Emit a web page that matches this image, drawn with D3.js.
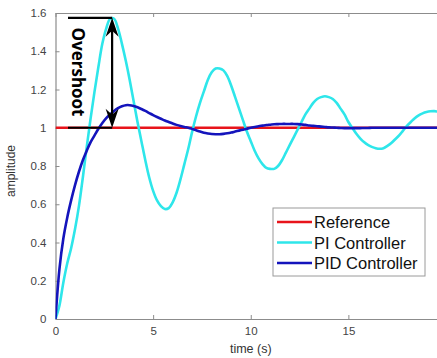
<!DOCTYPE html>
<html>
<head>
<meta charset="utf-8">
<script src="https://d3js.org/d3.v7.min.js"></script>
<style>
  body { margin: 0; background: #fff; }
  svg { display: block; font-family: "Liberation Sans", Arial, sans-serif; }
</style>
</head>
<body>
<div id="chart"></div>
<script>
// sampling grid, step 0.2 s
var time = d3.range(101).map(function(i) { return +(i * 0.2).toFixed(1); });

var piValues = [
  0, 0.07, 0.19, 0.29, 0.37, 0.47, 0.59, 0.74, 0.90, 1.05,
  1.19, 1.32, 1.44, 1.52, 1.57, 1.57, 1.52, 1.44, 1.35, 1.25,
  1.14, 1.03, 0.93, 0.83, 0.74, 0.67, 0.62, 0.59, 0.575, 0.58,
  0.61, 0.66, 0.73, 0.81, 0.89, 0.98, 1.06, 1.13, 1.19, 1.25,
  1.29, 1.31, 1.31, 1.30, 1.27, 1.22, 1.16, 1.10, 1.04, 0.98,
  0.93, 0.88, 0.84, 0.81, 0.79, 0.785, 0.785, 0.80, 0.83, 0.87,
  0.91, 0.95, 0.99, 1.03, 1.07, 1.10, 1.13, 1.15, 1.16, 1.165,
  1.16, 1.15, 1.13, 1.10, 1.07, 1.03, 1.00, 0.97, 0.945, 0.925,
  0.91, 0.90, 0.893, 0.89, 0.893, 0.905, 0.92, 0.94, 0.96, 0.985,
  1.01, 1.03, 1.05, 1.065, 1.075, 1.082, 1.086, 1.087, 1.084, 1.078,
  1.07
];

var pidValues = [
  0, 0.26, 0.42, 0.53, 0.62, 0.70, 0.77, 0.83, 0.88, 0.925,
  0.96, 0.995, 1.025, 1.05, 1.07, 1.088, 1.102, 1.112, 1.118, 1.118,
  1.114, 1.107, 1.098, 1.088, 1.077, 1.066, 1.056, 1.047, 1.038, 1.03,
  1.022, 1.015, 1.009, 1.004, 1.0, 0.994, 0.987, 0.98, 0.974, 0.97,
  0.967, 0.966, 0.966, 0.968, 0.971, 0.975, 0.98, 0.985, 0.99, 0.995,
  1.0, 1.004, 1.008, 1.011, 1.014, 1.016, 1.018, 1.019, 1.02, 1.02,
  1.02, 1.02, 1.019, 1.017, 1.015, 1.012, 1.01, 1.008, 1.006, 1.004,
  1.002, 1.001, 1.0, 0.999, 0.998, 0.998, 0.998, 0.998, 0.998, 0.999,
  0.999, 1, 1, 1, 1, 1, 1, 1, 1, 1,
  1, 1, 1, 1, 1, 1, 1, 1, 1, 1,
  1
];

var refTime = [0, 20];
var refValues = [1, 1];

var xTicks = [0, 5, 10, 15];
var yTicks = [0, 0.2, 0.4, 0.6, 0.8, 1, 1.2, 1.4, 1.6];

var legendNames = ["Reference", "PI Controller", "PID Controller"];
var colors = ["#e8141b", "#2ee6ea", "#1414bc"];

var W = 437, H = 358;
var mLeft = 55.5, mRight = 446, mTop = 13, mBottom = 319;

var svg = d3.select("#chart").append("svg")
  .attr("width", W).attr("height", H);

var x = d3.scaleLinear().domain([0, 20]).range([mLeft, mRight]);
var y = d3.scaleLinear().domain([0, 1.6]).range([mBottom, mTop]);

svg.append("clipPath").attr("id", "clip")
  .append("rect").attr("x", mLeft).attr("y", mTop)
  .attr("width", mRight - mLeft).attr("height", mBottom - mTop);

// axes (box style, ticks inward)
var axisColor = "#8c8c8c";
var tickColor = "#444";

var gx = svg.append("g").attr("transform", "translate(0," + mBottom + ")")
  .call(d3.axisBottom(x).tickValues(xTicks).tickSizeInner(-4).tickSizeOuter(0).tickPadding(8)
    .tickFormat(d3.format("d")));
var gxTop = svg.append("g").attr("transform", "translate(0," + mTop + ")")
  .call(d3.axisTop(x).tickValues(xTicks).tickSizeInner(-4).tickSizeOuter(0).tickFormat(""));
var gy = svg.append("g").attr("transform", "translate(" + mLeft + ",0)")
  .call(d3.axisLeft(y).tickValues(yTicks).tickSizeInner(-4).tickSizeOuter(0).tickPadding(9)
    .tickFormat(function(d) { return d3.format("~g")(d); }));

[gx, gxTop, gy].forEach(function(g) {
  g.select(".domain").attr("stroke", axisColor).attr("stroke-width", 1.2);
  g.selectAll(".tick line").attr("stroke", axisColor);
  g.selectAll(".tick text").attr("fill", tickColor).style("font-size", "11.5px");
});

svg.append("text")
  .attr("x", x(10)).attr("y", 353)
  .attr("text-anchor", "middle")
  .attr("fill", "#333")
  .style("font-size", "12.5px")
  .text("time (s)");

svg.append("text")
  .attr("transform", "translate(15," + 171 + ") rotate(-90)")
  .attr("text-anchor", "middle")
  .attr("fill", "#333")
  .style("font-size", "12px")
  .text("amplitude");

// lines
var line = d3.line()
  .x(function(d) { return x(d[0]); })
  .y(function(d) { return y(d[1]); })
  .curve(d3.curveCatmullRom);

var plot = svg.append("g").attr("clip-path", "url(#clip)");

var series = [
  refTime.map(function(t, i) { return [t, refValues[i]]; }),
  time.map(function(t, i) { return [t, piValues[i]]; }),
  time.map(function(t, i) { return [t, pidValues[i]]; })
];

series.forEach(function(s, i) {
  plot.append("path")
    .datum(s)
    .attr("d", line)
    .attr("fill", "none")
    .attr("stroke", colors[i])
    .attr("stroke-width", 2.6);
});

// overshoot annotation
var peakT = 2.9;
var ann = svg.append("g");
ann.append("line")
  .attr("x1", 68).attr("x2", x(peakT))
  .attr("y1", y(1.575)).attr("y2", y(1.575))
  .attr("stroke", "#000").attr("stroke-width", 2.2);
ann.append("line")
  .attr("x1", 68).attr("x2", x(peakT))
  .attr("y1", y(1)).attr("y2", y(1))
  .attr("stroke", "#000").attr("stroke-width", 2.2);
ann.append("line")
  .attr("x1", x(peakT)).attr("x2", x(peakT))
  .attr("y1", y(1.575) + 8).attr("y2", y(1) - 8)
  .attr("stroke", "#000").attr("stroke-width", 2.2);

var ax = x(peakT);
ann.append("path")
  .attr("d", "M" + ax + "," + y(1.575) + " L" + (ax - 6.5) + "," + (y(1.575) + 19) +
    " L" + ax + "," + (y(1.575) + 13) + " L" + (ax + 6.5) + "," + (y(1.575) + 19) + "Z")
  .attr("fill", "#000");
ann.append("path")
  .attr("d", "M" + ax + "," + y(1) + " L" + (ax - 6.5) + "," + (y(1) - 19) +
    " L" + ax + "," + (y(1) - 13) + " L" + (ax + 6.5) + "," + (y(1) - 19) + "Z")
  .attr("fill", "#000");

ann.append("text")
  .attr("transform", "translate(72," + 72 + ") rotate(90)")
  .attr("text-anchor", "middle")
  .attr("font-family", "'Open Sans', sans-serif")
  .attr("font-weight", "bold")
  .style("font-size", "17px")
  .attr("fill", "#000")
  .text("Overshoot");

// legend
var lg = svg.append("g").attr("transform", "translate(273,208)");
lg.append("rect")
  .attr("width", 152).attr("height", 68)
  .attr("fill", "#fff").attr("stroke", "#9a9a9a").attr("stroke-width", 1);

legendNames.forEach(function(name, i) {
  var yy = 14 + i * 20.5;
  lg.append("line")
    .attr("x1", 4).attr("x2", 39)
    .attr("y1", yy).attr("y2", yy)
    .attr("stroke", colors[i]).attr("stroke-width", 2.6);
  lg.append("text")
    .attr("x", 41).attr("y", yy + 6)
    .attr("fill", "#111")
    .style("font-size", "16.5px")
    .text(name);
});
</script>
</body>
</html>
